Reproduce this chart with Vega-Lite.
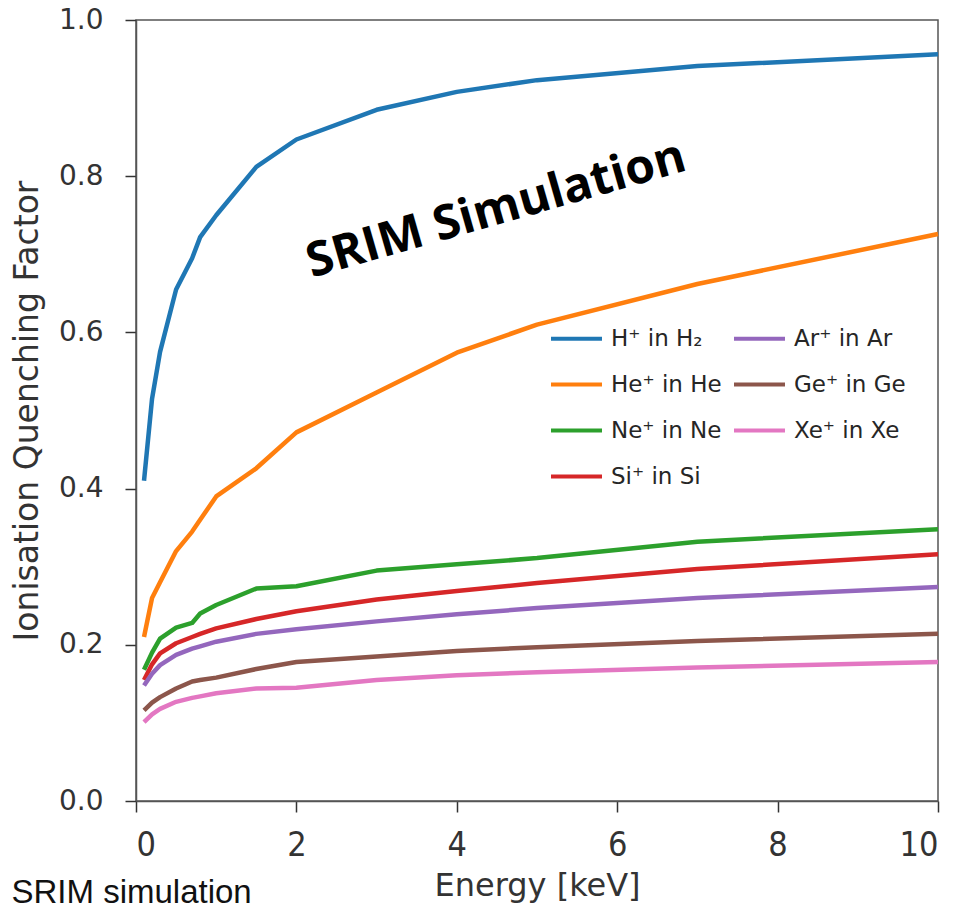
{
  "$schema": "https://vega.github.io/schema/vega-lite/v6.json",
  "width": 802,
  "height": 781,
  "autosize": "none",
  "padding": {"left": 136, "top": 20, "right": 20, "bottom": 108},
  "background": "white",
  "config": {
    "view": {"stroke": "#555", "strokeWidth": 1.5},
    "axis": {"grid": false, "domainColor": "#555", "domainWidth": 1.5, "tickColor": "#333", "tickWidth": 1.5, "tickSize": 11, "labelColor": "#333", "titleColor": "#333", "titleFontWeight": "normal"}
  },
  "title": {"text": "SRIM simulation", "orient": "bottom", "anchor": "start", "frame": "bounds", "font": "Liberation Sans", "fontSize": 33, "fontWeight": "normal", "color": "#111", "offset": -24},
  "data": {"values": [
    {"ion":"H⁺ in H₂","E":0.1,"q":0.41},{"ion":"H⁺ in H₂","E":0.2,"q":0.515},{"ion":"H⁺ in H₂","E":0.3,"q":0.575},{"ion":"H⁺ in H₂","E":0.5,"q":0.655},{"ion":"H⁺ in H₂","E":0.7,"q":0.695},{"ion":"H⁺ in H₂","E":0.8,"q":0.722},{"ion":"H⁺ in H₂","E":1,"q":0.75},{"ion":"H⁺ in H₂","E":1.5,"q":0.812},{"ion":"H⁺ in H₂","E":2,"q":0.847},{"ion":"H⁺ in H₂","E":3,"q":0.885},{"ion":"H⁺ in H₂","E":4,"q":0.908},{"ion":"H⁺ in H₂","E":5,"q":0.923},{"ion":"H⁺ in H₂","E":7,"q":0.941},{"ion":"H⁺ in H₂","E":10,"q":0.956},
    {"ion":"He⁺ in He","E":0.1,"q":0.21},{"ion":"He⁺ in He","E":0.2,"q":0.26},{"ion":"He⁺ in He","E":0.3,"q":0.28},{"ion":"He⁺ in He","E":0.5,"q":0.32},{"ion":"He⁺ in He","E":0.7,"q":0.345},{"ion":"He⁺ in He","E":0.8,"q":0.36},{"ion":"He⁺ in He","E":1,"q":0.39},{"ion":"He⁺ in He","E":1.5,"q":0.426},{"ion":"He⁺ in He","E":2,"q":0.472},{"ion":"He⁺ in He","E":3,"q":0.523},{"ion":"He⁺ in He","E":4,"q":0.574},{"ion":"He⁺ in He","E":5,"q":0.61},{"ion":"He⁺ in He","E":7,"q":0.662},{"ion":"He⁺ in He","E":10,"q":0.726},
    {"ion":"Ne⁺ in Ne","E":0.1,"q":0.168},{"ion":"Ne⁺ in Ne","E":0.2,"q":0.19},{"ion":"Ne⁺ in Ne","E":0.3,"q":0.208},{"ion":"Ne⁺ in Ne","E":0.5,"q":0.222},{"ion":"Ne⁺ in Ne","E":0.7,"q":0.228},{"ion":"Ne⁺ in Ne","E":0.8,"q":0.24},{"ion":"Ne⁺ in Ne","E":1,"q":0.251},{"ion":"Ne⁺ in Ne","E":1.5,"q":0.272},{"ion":"Ne⁺ in Ne","E":2,"q":0.275},{"ion":"Ne⁺ in Ne","E":3,"q":0.295},{"ion":"Ne⁺ in Ne","E":4,"q":0.303},{"ion":"Ne⁺ in Ne","E":5,"q":0.311},{"ion":"Ne⁺ in Ne","E":7,"q":0.332},{"ion":"Ne⁺ in Ne","E":10,"q":0.348},
    {"ion":"Si⁺ in Si","E":0.1,"q":0.155},{"ion":"Si⁺ in Si","E":0.2,"q":0.175},{"ion":"Si⁺ in Si","E":0.3,"q":0.189},{"ion":"Si⁺ in Si","E":0.5,"q":0.202},{"ion":"Si⁺ in Si","E":0.7,"q":0.21},{"ion":"Si⁺ in Si","E":0.8,"q":0.214},{"ion":"Si⁺ in Si","E":1,"q":0.221},{"ion":"Si⁺ in Si","E":1.5,"q":0.233},{"ion":"Si⁺ in Si","E":2,"q":0.243},{"ion":"Si⁺ in Si","E":3,"q":0.258},{"ion":"Si⁺ in Si","E":4,"q":0.269},{"ion":"Si⁺ in Si","E":5,"q":0.279},{"ion":"Si⁺ in Si","E":7,"q":0.297},{"ion":"Si⁺ in Si","E":10,"q":0.316},
    {"ion":"Ar⁺ in Ar","E":0.1,"q":0.148},{"ion":"Ar⁺ in Ar","E":0.2,"q":0.163},{"ion":"Ar⁺ in Ar","E":0.3,"q":0.174},{"ion":"Ar⁺ in Ar","E":0.5,"q":0.187},{"ion":"Ar⁺ in Ar","E":0.7,"q":0.195},{"ion":"Ar⁺ in Ar","E":0.8,"q":0.198},{"ion":"Ar⁺ in Ar","E":1,"q":0.204},{"ion":"Ar⁺ in Ar","E":1.5,"q":0.214},{"ion":"Ar⁺ in Ar","E":2,"q":0.22},{"ion":"Ar⁺ in Ar","E":3,"q":0.23},{"ion":"Ar⁺ in Ar","E":4,"q":0.239},{"ion":"Ar⁺ in Ar","E":5,"q":0.247},{"ion":"Ar⁺ in Ar","E":7,"q":0.26},{"ion":"Ar⁺ in Ar","E":10,"q":0.274},
    {"ion":"Ge⁺ in Ge","E":0.1,"q":0.116},{"ion":"Ge⁺ in Ge","E":0.2,"q":0.126},{"ion":"Ge⁺ in Ge","E":0.3,"q":0.133},{"ion":"Ge⁺ in Ge","E":0.5,"q":0.144},{"ion":"Ge⁺ in Ge","E":0.7,"q":0.153},{"ion":"Ge⁺ in Ge","E":0.8,"q":0.155},{"ion":"Ge⁺ in Ge","E":1,"q":0.158},{"ion":"Ge⁺ in Ge","E":1.5,"q":0.169},{"ion":"Ge⁺ in Ge","E":2,"q":0.178},{"ion":"Ge⁺ in Ge","E":3,"q":0.185},{"ion":"Ge⁺ in Ge","E":4,"q":0.192},{"ion":"Ge⁺ in Ge","E":5,"q":0.197},{"ion":"Ge⁺ in Ge","E":7,"q":0.205},{"ion":"Ge⁺ in Ge","E":10,"q":0.214},
    {"ion":"Xe⁺ in Xe","E":0.1,"q":0.101},{"ion":"Xe⁺ in Xe","E":0.2,"q":0.111},{"ion":"Xe⁺ in Xe","E":0.3,"q":0.118},{"ion":"Xe⁺ in Xe","E":0.5,"q":0.127},{"ion":"Xe⁺ in Xe","E":0.7,"q":0.132},{"ion":"Xe⁺ in Xe","E":0.8,"q":0.134},{"ion":"Xe⁺ in Xe","E":1,"q":0.138},{"ion":"Xe⁺ in Xe","E":1.5,"q":0.144},{"ion":"Xe⁺ in Xe","E":2,"q":0.145},{"ion":"Xe⁺ in Xe","E":3,"q":0.155},{"ion":"Xe⁺ in Xe","E":4,"q":0.161},{"ion":"Xe⁺ in Xe","E":5,"q":0.165},{"ion":"Xe⁺ in Xe","E":7,"q":0.171},{"ion":"Xe⁺ in Xe","E":10,"q":0.178}
  ]},
  "layer": [
    {
      "mark": {"type": "line", "strokeWidth": 4.5, "strokeCap": "butt", "strokeJoin": "round"},
      "encoding": {
        "x": {"field": "E", "type": "quantitative", "scale": {"domain": [0, 10], "nice": false}, "axis": {"values": [0,2,4,6,8,10], "format": "d", "title": "Energy [keV]", "labelFont": "Liberation Sans Narrow, DejaVu Sans Condensed", "labelFontSize": 34, "labelPadding": 16, "titleFont": "DejaVu Sans", "titleFontSize": 32, "titlePadding": 8}},
        "y": {"field": "q", "type": "quantitative", "scale": {"domain": [0, 1], "nice": false}, "axis": {"values": [0,0.2,0.4,0.6,0.8,1.0], "format": ".1f", "title": "Ionisation Quenching Factor", "labelFont": "DejaVu Sans", "labelFontSize": 28, "labelPadding": 22, "titleFont": "DejaVu Sans", "titleFontSize": 33, "titlePadding": 14}},
        "color": {"field": "ion", "type": "nominal",
          "scale": {"domain": ["H⁺ in H₂","He⁺ in He","Ne⁺ in Ne","Si⁺ in Si","Ar⁺ in Ar","Ge⁺ in Ge","Xe⁺ in Xe"], "range": ["#1f77b4","#ff7f0e","#2ca02c","#d62728","#9467bd","#8c564b","#e377c2"]},
          "legend": {"title": null, "orient": "none", "legendX": 413, "legendY": 291, "columns": 2, "symbolType": "stroke", "symbolSize": 2600, "symbolStrokeWidth": 4, "labelFont": "DejaVu Sans", "labelFontSize": 23, "labelColor": "#262626", "labelOffset": 7, "columnPadding": 4, "rowPadding": 6, "padding": 0}
        }
      }
    },
    {
      "data": {"values": [{"E": 4.54, "q": 0.739, "label": "SRIM Simulation"}]},
      "mark": {"type": "text", "font": "Open Sans", "fontWeight": "bold", "fontSize": 48, "angle": -16, "align": "center", "baseline": "alphabetic", "color": "black"},
      "encoding": {
        "x": {"field": "E", "type": "quantitative"},
        "y": {"field": "q", "type": "quantitative"},
        "text": {"field": "label"}
      }
    }
  ]
}
